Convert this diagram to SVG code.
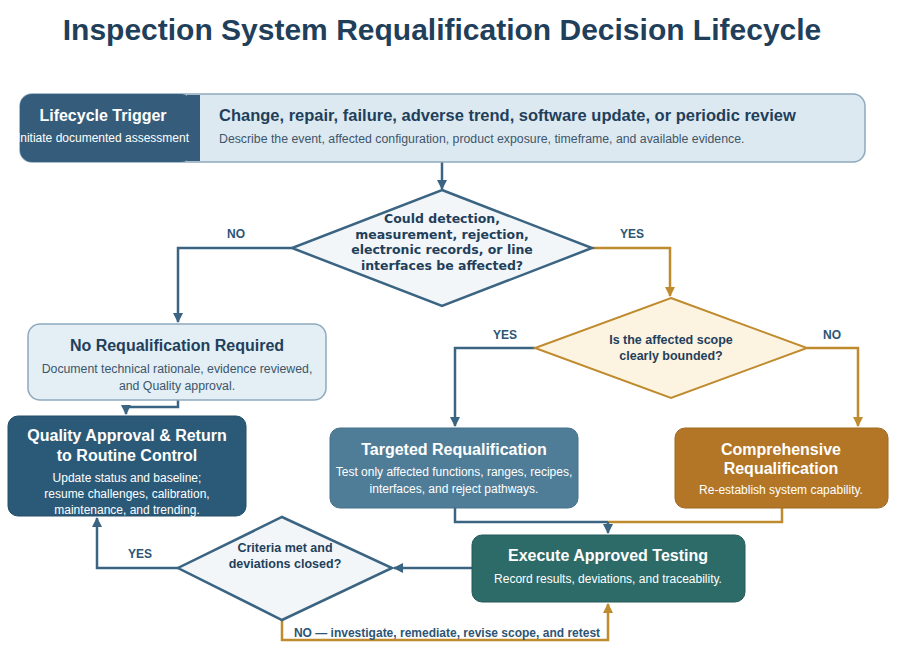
<svg xmlns="http://www.w3.org/2000/svg" width="900" height="654" viewBox="0 0 900 654">
<style>
text{font-family:"Liberation Sans",Arial,sans-serif;text-anchor:middle}
.t{font-weight:bold;font-size:16px;fill:#fff}
.s{font-size:12px;fill:#fff}
.dt{font-weight:bold;font-size:12.5px;fill:#1f3f5b}
.lb{font-weight:bold;font-size:12px;fill:#2d5575}
.b{fill:none;stroke:#3a6482;stroke-width:2.5}
.o{fill:none;stroke:#c08a2e;stroke-width:2.5}
</style>
<defs>
<marker id="ab" viewBox="0 0 10 10" refX="9" refY="5" markerWidth="4" markerHeight="4" orient="auto"><path d="M0,0L10,5L0,10z" fill="#3a6482"/></marker>
<marker id="ao" viewBox="0 0 10 10" refX="9" refY="5" markerWidth="4" markerHeight="4" orient="auto"><path d="M0,0L10,5L0,10z" fill="#c08a2e"/></marker>
</defs>
<rect width="900" height="654" fill="#fff"/>
<text x="442" y="40" style="font-weight:bold;font-size:30px;fill:#1f3f5b">Inspection System Requalification Decision Lifecycle</text>
<g id="connectors">
<path class="b" d="M442,162V189" marker-end="url(#ab)"/>
<path class="b" d="M292,248H178V322" marker-end="url(#ab)"/>
<path class="o" d="M592,248H670V296" marker-end="url(#ao)"/>
<path class="b" d="M535,348H455V426" marker-end="url(#ab)"/>
<path class="o" d="M807,348H858V426" marker-end="url(#ao)"/>
<path class="b" d="M178,400V407H126V414" marker-end="url(#ab)"/>
<path class="b" d="M455,508V522H608"/>
<path class="o" d="M782,508V522H608"/>
<path class="b" d="M608,522V533" marker-end="url(#ab)"/>
<path class="b" d="M472,568H394" marker-end="url(#ab)"/>
<path class="b" d="M178,568H97V518" marker-end="url(#ab)"/>
<path class="o" d="M282,620V640H608V604" marker-end="url(#ao)"/>
<text class="lb" x="236" y="238">NO</text>
<text class="lb" x="632" y="238">YES</text>
<text class="lb" x="505" y="339">YES</text>
<text class="lb" x="832" y="339">NO</text>
<text class="lb" x="140" y="558">YES</text>
<text class="lb" x="447" y="637">NO — investigate, remediate, revise scope, and retest</text>
</g>
<g id="trigger">
<rect x="20" y="94" width="845" height="68" rx="12" fill="#dde9f1" stroke="#8fa9bd" stroke-width="1.5"/>
<rect x="187" y="95" width="13" height="66" fill="#355c7a"/>
<rect x="20" y="94" width="173" height="68" rx="12" fill="#355c7a"/>
<text class="t" x="103" y="121">Lifecycle Trigger</text>
<text class="s" x="103" y="142">Initiate documented assessment</text>
<text x="219" y="121" style="text-anchor:start;font-weight:bold;font-size:16.5px;fill:#1f3f5b">Change, repair, failure, adverse trend, software update, or periodic review</text>
<text x="219" y="143" style="text-anchor:start;font-size:12.3px;fill:#3d566b">Describe the event, affected configuration, product exposure, timeframe, and available evidence.</text>
</g>
<g id="d1">
<path d="M442,190L592,248L442,306L292,248z" fill="#f2f6f9" stroke="#3a6482" stroke-width="2.5"/>
<text class="dt" x="442" y="223" style="font-family:'DejaVu Sans',sans-serif;font-size:12.5px">Could detection,</text>
<text class="dt" x="442" y="239" style="font-family:'DejaVu Sans',sans-serif;font-size:12.5px">measurement, rejection,</text>
<text class="dt" x="442" y="254" style="font-family:'DejaVu Sans',sans-serif;font-size:12.5px">electronic records, or line</text>
<text class="dt" x="442" y="270" style="font-family:'DejaVu Sans',sans-serif;font-size:12.5px">interfaces be affected?</text>
</g>
<g id="noreq">
<rect x="28" y="324" width="298" height="76" rx="12" fill="#e3eef5" stroke="#8fa9bd" stroke-width="1.5"/>
<text x="177" y="351" style="font-weight:bold;font-size:16px;fill:#1f3f5b">No Requalification Required</text>
<text x="177" y="373" style="font-size:12.3px;fill:#3d566b">Document technical rationale, evidence reviewed,</text>
<text x="177" y="390" style="font-size:12.3px;fill:#3d566b">and Quality approval.</text>
</g>
<g id="d2">
<path d="M671,298L807,348L671,398L535,348z" fill="#fdf3e1" stroke="#c08a2e" stroke-width="2"/>
<text class="dt" x="671" y="344">Is the affected scope</text>
<text class="dt" x="671" y="360">clearly bounded?</text>
</g>
<g id="quality">
<rect x="8" y="416" width="238" height="100" rx="10" fill="#2a5a78" stroke="#244c66"/>
<text class="t" x="127" y="441">Quality Approval &amp; Return</text>
<text class="t" x="127" y="461">to Routine Control</text>
<text class="s" x="127" y="482">Update status and baseline;</text>
<text class="s" x="127" y="498">resume challenges, calibration,</text>
<text class="s" x="127" y="514">maintenance, and trending.</text>
</g>
<g id="targeted">
<rect x="330" y="428" width="248" height="80" rx="10" fill="#4f7d98" stroke="#44708a"/>
<text class="t" x="454" y="455">Targeted Requalification</text>
<text class="s" x="454" y="476">Test only affected functions, ranges, recipes,</text>
<text class="s" x="454" y="493">interfaces, and reject pathways.</text>
</g>
<g id="comprehensive">
<rect x="675" y="428" width="213" height="80" rx="10" fill="#b37626" stroke="#9f6920"/>
<text class="t" x="781" y="455">Comprehensive</text>
<text class="t" x="781" y="474">Requalification</text>
<text class="s" x="781" y="494">Re-establish system capability.</text>
</g>
<g id="execute">
<rect x="472" y="535" width="273" height="67" rx="10" fill="#2d6b68" stroke="#255a58"/>
<text class="t" x="608" y="561">Execute Approved Testing</text>
<text class="s" x="608" y="583">Record results, deviations, and traceability.</text>
</g>
<g id="d3">
<path d="M282,517L392,568L282,620L178,568z" fill="#f2f6f9" stroke="#3a6482" stroke-width="2.5"/>
<text class="dt" x="285" y="552">Criteria met and</text>
<text class="dt" x="285" y="568">deviations closed?</text>
</g>
</svg>
